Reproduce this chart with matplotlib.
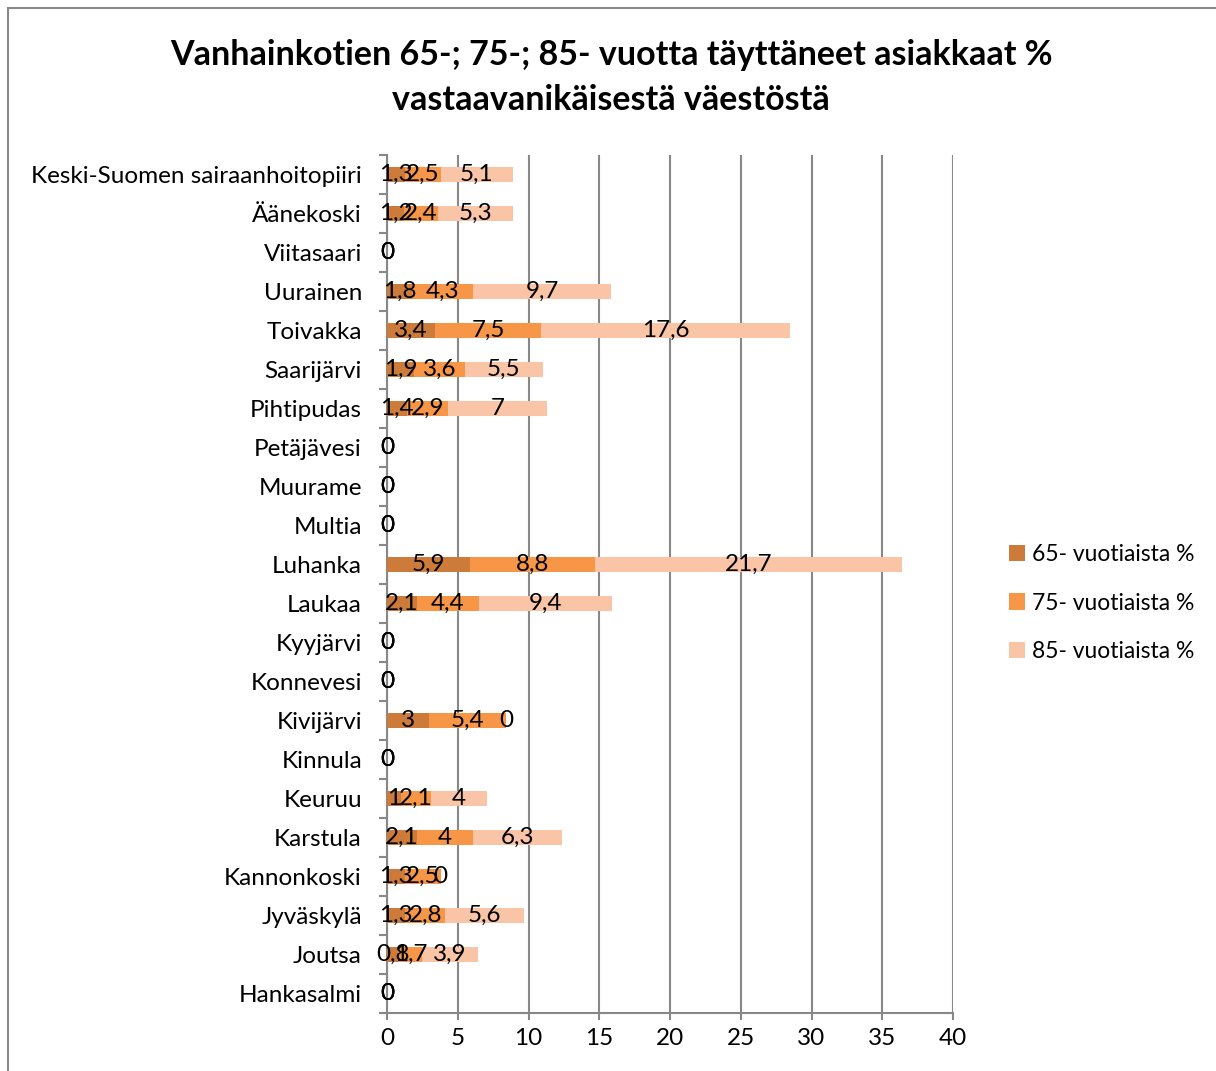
import numpy as np
import matplotlib.pyplot as plt
from matplotlib.patches import Rectangle

plt.rcParams['font.family'] = ['Lato', 'DejaVu Sans']

# data, top to bottom as in the chart
kunnat = ['Keski-Suomen sairaanhoitopiiri', 'Äänekoski', 'Viitasaari', 'Uurainen',
          'Toivakka', 'Saarijärvi', 'Pihtipudas', 'Petäjävesi', 'Muurame', 'Multia',
          'Luhanka', 'Laukaa', 'Kyyjärvi', 'Konnevesi', 'Kivijärvi', 'Kinnula',
          'Keuruu', 'Karstula', 'Kannonkoski', 'Jyväskylä', 'Joutsa', 'Hankasalmi']
v65 = [1.3, 1.2, 0, 1.8, 3.4, 1.9, 1.4, 0, 0, 0, 5.9, 2.1, 0, 0, 3, 0, 1, 2.1, 1.3, 1.3, 0.8, 0]
v75 = [2.5, 2.4, 0, 4.3, 7.5, 3.6, 2.9, 0, 0, 0, 8.8, 4.4, 0, 0, 5.4, 0, 2.1, 4, 2.5, 2.8, 1.7, 0]
v85 = [5.1, 5.3, 0, 9.7, 17.6, 5.5, 7, 0, 0, 0, 21.7, 9.4, 0, 0, 0, 0, 4, 6.3, 0, 5.6, 3.9, 0]
sarjat = ['65- vuotiaista %', '75- vuotiaista %', '85- vuotiaista %']
varit = ['#CC7B3A', '#F79646', '#FAC4A7']

def fi(x):
    s = ('%g' % x)
    return s.replace('.', ',')

fs = 17.5

fig = plt.figure(figsize=(12.16, 10.71), dpi=100)
ax = fig.add_axes([387/1216, 1-1013/1071, (953-387)/1216, (1013-155)/1071])

y = np.arange(len(kunnat))[::-1]
left = np.zeros(len(kunnat))
for vals, nimi, c in zip([v65, v75, v85], sarjat, varit):
    vals = np.array(vals, dtype=float)
    ax.barh(y, vals, left=left, height=0.4, color=c, label=nimi, zorder=3)
    for yi, l, v in zip(y, left, vals):
        ax.text(l + v/2, yi, fi(v), ha='center', va='center', fontsize=fs, zorder=4)
    left = left + vals

ax.set_xlim(0, 40)
ax.set_ylim(-0.5, len(kunnat)-0.5)
ax.set_xticks(range(0, 45, 5))
ax.set_yticks(y)
ax.set_yticklabels(kunnat, fontsize=fs)
ax.set_yticks(np.arange(-0.5, len(kunnat), 1), minor=True)
ax.tick_params(axis='y', which='major', length=0, pad=18)
ax.tick_params(axis='y', which='minor', length=6, color='#888888', width=1.5)
ax.tick_params(axis='x', length=5, color='#888888', width=1.5, labelsize=fs, pad=6)
ax.xaxis.grid(True, color='#888888', lw=1.5, zorder=0)
for s in ['top', 'right']:
    ax.spines[s].set_visible(False)
ax.spines['left'].set_color('#888888')
ax.spines['left'].set_linewidth(1.5)
ax.spines['bottom'].set_color('#888888')
ax.spines['bottom'].set_linewidth(1.5)

fig.text(0.5 + 3/1216, 1-55/1071, 'Vanhainkotien 65-; 75-; 85- vuotta täyttäneet asiakkaat %',
         ha='center', va='center', fontsize=24.5, fontweight='bold')
fig.text(0.5 + 3/1216, 1-100/1071, 'vastaavanikäisestä väestöstä',
         ha='center', va='center', fontsize=24.5, fontweight='bold')

fig.legend(loc='center left', bbox_to_anchor=(1009/1216, 1-603/1071), frameon=False,
           fontsize=16.5, handlelength=0.7, handleheight=0.7, handletextpad=0.3,
           labelspacing=1.2, borderpad=0, borderaxespad=0)

fig.patches.append(Rectangle((8/1216, -0.01), 1.0, 1-8/1071+0.01, transform=fig.transFigure,
                             fill=False, edgecolor='#888888', lw=1.5))

fig.savefig('out.png', dpi=100)
